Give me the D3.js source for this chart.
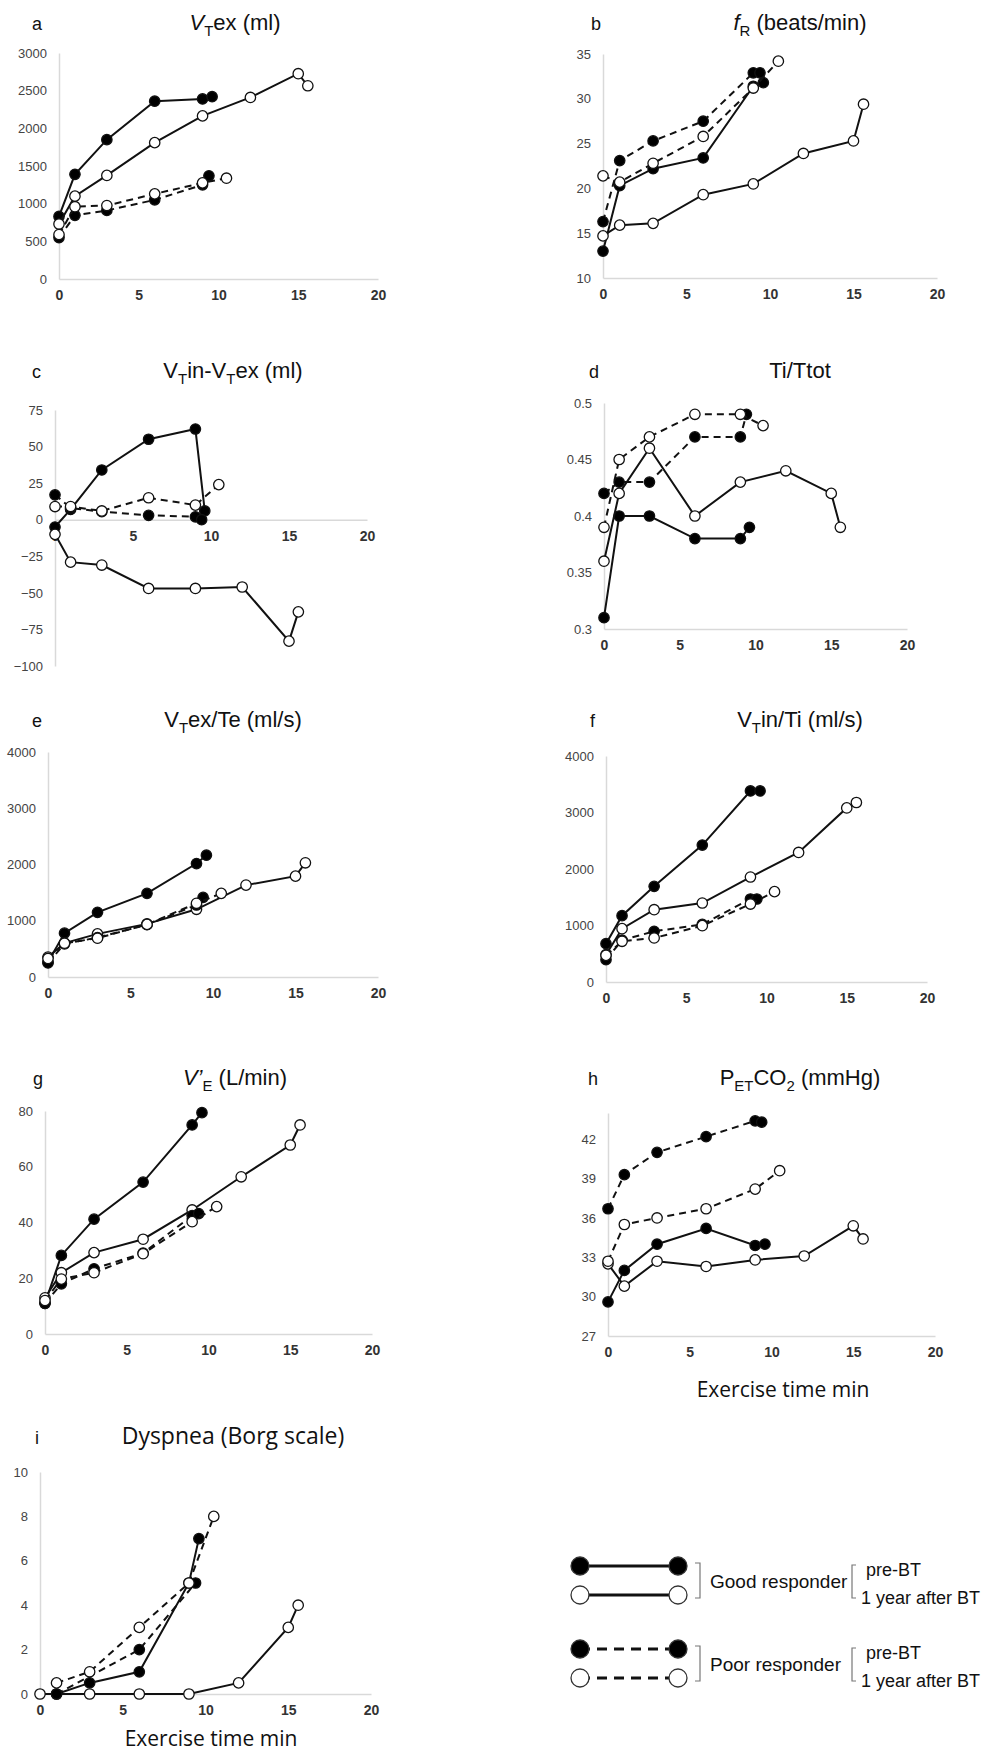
<!DOCTYPE html>
<html lang="en">
<head>
<meta charset="UTF-8">
<title>Exercise responses, good vs poor responders</title>
<script src="https://d3js.org/d3.v7.min.js"></script>
<style>
  body { margin: 0; background: #fff; }
  svg text { font-family: "Liberation Sans", Arial, sans-serif; }
</style>
</head>
<body>
<svg id="chart" width="987" height="1758"></svg>
<script>
// exercise time points (min) of each group
const goodPreT  = [0, 1, 3, 6, 9, 9.6];
const goodPostT = [0, 1, 3, 6, 9, 12, 15, 15.6];
const poorPreT  = [0, 1, 3, 6, 9, 9.4];
const poorPostT = [0, 1, 3, 6, 9, 10.5];

// a  VTex (ml)
const vtexGoodPre  = [830, 1390, 1850, 2360, 2390, 2420];
const vtexGoodPost = [730, 1100, 1375, 1810, 2165, 2410, 2725, 2565];
const vtexPoorPre  = [550, 845, 910, 1050, 1250, 1370];
const vtexPoorPost = [590, 960, 975, 1130, 1276, 1338];
// b  fR (beats/min)
const frGoodPre  = [13, 20.3, 22.2, 23.4, 31.4, 31.8];
const frGoodPost = [14.7, 15.9, 16.1, 19.3, 20.5, 23.9, 25.3, 29.4];
const frPoorPre  = [16.3, 23.1, 25.3, 27.5, 32.9, 32.9];
const frPoorPost = [21.4, 20.7, 22.8, 25.8, 31.2, 34.2];
// c  VTin-VTex (ml)
const dvGoodPre  = [-5, 7, 34, 55, 62, 6];
const dvGoodPost = [-10, -29, -31, -47, -47, -46, -83, -63];
const dvPoorPre  = [17, 8, 5.5, 3, 2, 0];
const dvPoorPost = [9, 9, 6, 15, 10, 24];
// d  Ti/Ttot
const tiGoodPre  = [0.31, 0.40, 0.40, 0.38, 0.38, 0.39];
const tiGoodPost = [0.36, 0.42, 0.46, 0.40, 0.43, 0.44, 0.42, 0.39];
const tiPoorPre  = [0.42, 0.43, 0.43, 0.47, 0.47, 0.49];
const tiPoorPost = [0.39, 0.45, 0.47, 0.49, 0.49, 0.48];
// e  VTex/Te (ml/s)
const teGoodPre  = [265, 780, 1150, 1487, 2017, 2165];
const teGoodPost = [354, 602, 767, 944, 1204, 1634, 1793, 2030];
const tePoorPre  = [250, 590, 700, 930, 1280, 1416];
const tePoorPost = [330, 600, 690, 935, 1310, 1487];
// f  VTin/Ti (ml/s)
const tifGoodPre  = [678, 1174, 1693, 2424, 3381, 3381];
const tifGoodPost = [484, 944, 1280, 1398, 1858, 2293, 3081, 3177];
const tifPoorPre  = [395, 740, 897, 1020, 1469, 1469];
const tifPoorPost = [472, 720, 779, 997, 1380, 1599];
// g  V'E (L/min)
const veGoodPre  = [11, 28.2, 41.2, 54.5, 75, 79.4];
const veGoodPost = [13, 22, 29.2, 34, 44.5, 56.4, 67.8, 75];
const vePoorPre  = [11, 18, 23.4, 29, 42.5, 43.2];
const vePoorPost = [12, 19.7, 22, 28.8, 40.3, 45.7];
// h  PETCO2 (mmHg)
const co2GoodPre  = [29.6, 32, 34, 35.2, 33.9, 34];
const co2GoodPost = [32.5, 30.8, 32.7, 32.3, 32.8, 33.1, 35.4, 34.4];
const co2PoorPre  = [36.7, 39.3, 41, 42.2, 43.4, 43.3];
const co2PoorPost = [32.7, 35.5, 36, 36.7, 38.2, 39.6];
// i  Dyspnea (Borg scale)
const borgGoodPre  = [null, 0, 0.5, 1, 5, 7];
const borgGoodPost = [0, null, 0, 0, 0, 0.5, 3, 4];
const borgPoorPre  = [null, 0, null, 2, null, 5];
const borgPoorPost = [null, 0.5, 1, 3, 5, 8];

// axis ticks
const xTicks = [0, 5, 10, 15, 20];
const vtexTicks = [0, 500, 1000, 1500, 2000, 2500, 3000];
const frTicks = [10, 15, 20, 25, 30, 35];
const dvTicks = [-100, -75, -50, -25, 0, 25, 50, 75];
const tiTicks = [0.3, 0.35, 0.4, 0.45, 0.5];
const flowTicks = [0, 1000, 2000, 3000, 4000];
const veTicks = [0, 20, 40, 60, 80];
const co2Ticks = [27, 30, 33, 36, 39, 42];
const borgTicks = [0, 2, 4, 6, 8, 10];

const legendGroups = ["Good responder", "Poor responder"];
const legendPhases = ["pre-BT", "1 year after BT"];
const xLabel = "Exercise time min";

const svg = d3.select("#chart");

const styles = [
  { dash: null, fill: "#000" },   // good pre
  { dash: null, fill: "#fff" },   // good post
  { dash: "7,5", fill: "#000" },  // poor pre
  { dash: "7,5", fill: "#fff" }   // poor post
];

function rich(sel, parts, fs) {
  let down = false;
  parts.forEach(p => {
    const ts = sel.append("tspan").text(p.t);
    if (p.it) ts.attr("font-style", "italic");
    if (p.sub) {
      ts.attr("font-size", fs * 0.68);
      if (!down) ts.attr("dy", fs * 0.28);
      down = true;
    } else if (down) {
      ts.attr("dy", -fs * 0.28);
      down = false;
    }
  });
}

function panel(cfg, vals) {
  const times = [goodPreT, goodPostT, poorPreT, poorPostT];
  const x = d3.scaleLinear().domain([0, 20]).range([cfg.x0, cfg.x1]);
  const y = d3.scaleLinear().domain(cfg.dom).range([cfg.yBot, cfg.yTop]);
  const g = svg.append("g");

  const yAx = g.append("g").attr("transform", `translate(${cfg.x0},0)`)
    .call(d3.axisLeft(y).tickValues(cfg.ticks).tickSize(0).tickPadding(12)
      .tickFormat(cfg.fmt || d3.format("d")));
  const xAt = cfg.xAt !== undefined ? cfg.xAt : cfg.dom[0];
  const xAx = g.append("g").attr("transform", `translate(0,${y(xAt)})`)
    .call(d3.axisBottom(x).tickValues(xTicks).tickSize(0).tickPadding(11));
  [yAx, xAx].forEach(a => a.select(".domain").attr("stroke", "#d9d9d9").attr("stroke-width", 1.5));
  yAx.selectAll("text").attr("font-size", 13).attr("fill", "#444")
    .attr("font-family", "Liberation Sans, Arial, sans-serif");
  xAx.selectAll("text").attr("font-size", 14).attr("font-weight", "bold").attr("fill", "#333")
    .attr("font-family", "Liberation Sans, Arial, sans-serif");

  const line = d3.line().x(d => x(d[0])).y(d => y(d[1]));
  vals.forEach((v, i) => {
    const pts = times[i].map((t, k) => [t, v[k]]).filter(d => d[1] != null);
    const st = styles[i];
    g.append("path").datum(pts).attr("fill", "none").attr("stroke", "#111")
      .attr("stroke-width", 2).attr("stroke-dasharray", st.dash).attr("d", line);
    g.selectAll(null).data(pts).join("circle")
      .attr("cx", d => x(d[0])).attr("cy", d => y(d[1])).attr("r", 5.2)
      .attr("fill", st.fill).attr("stroke", "#111").attr("stroke-width", 1.3);
  });

  svg.append("text").attr("x", cfg.lx).attr("y", cfg.ty).attr("font-size", 18)
    .attr("fill", "#111").text(cfg.letter);
  const t = svg.append("text").attr("x", cfg.tx).attr("y", cfg.ty)
    .attr("text-anchor", "middle").attr("font-size", cfg.tfs || 22).attr("fill", "#111");
  if (cfg.tfont) t.style("font-family", cfg.tfont);
  rich(t, cfg.title, cfg.tfs || 22);
}

const fmt2 = d => String(+d.toFixed(2));

panel({ letter: "a", lx: 32, tx: 235, ty: 30, x0: 59, x1: 378, yTop: 53, yBot: 279,
  dom: [0, 3000], ticks: vtexTicks,
  title: [{ t: "V", it: 1 }, { t: "T", sub: 1 }, { t: "ex (ml)" }] },
  [vtexGoodPre, vtexGoodPost, vtexPoorPre, vtexPoorPost]);

panel({ letter: "b", lx: 591, tx: 800, ty: 30, x0: 603, x1: 937, yTop: 54, yBot: 278,
  dom: [10, 35], ticks: frTicks,
  title: [{ t: "f", it: 1 }, { t: "R", sub: 1 }, { t: " (beats/min)" }] },
  [frGoodPre, frGoodPost, frPoorPre, frPoorPost]);

panel({ letter: "c", lx: 32, tx: 233, ty: 378, x0: 55, x1: 367, yTop: 410, yBot: 666,
  dom: [-100, 75], ticks: dvTicks, xAt: 0,
  title: [{ t: "V" }, { t: "T", sub: 1 }, { t: "in-V" }, { t: "T", sub: 1 }, { t: "ex (ml)" }] },
  [dvGoodPre, dvGoodPost, dvPoorPre, dvPoorPost]);

panel({ letter: "d", lx: 589, tx: 800, ty: 378, x0: 604, x1: 907, yTop: 403, yBot: 629,
  dom: [0.3, 0.5], ticks: tiTicks, fmt: fmt2,
  title: [{ t: "Ti/Ttot" }] },
  [tiGoodPre, tiGoodPost, tiPoorPre, tiPoorPost]);

panel({ letter: "e", lx: 32, tx: 233, ty: 727, x0: 48, x1: 378, yTop: 752, yBot: 977,
  dom: [0, 4000], ticks: flowTicks,
  title: [{ t: "V" }, { t: "T", sub: 1 }, { t: "ex/Te (ml/s)" }] },
  [teGoodPre, teGoodPost, tePoorPre, tePoorPost]);

panel({ letter: "f", lx: 590, tx: 800, ty: 727, x0: 606, x1: 927, yTop: 756, yBot: 982,
  dom: [0, 4000], ticks: flowTicks,
  title: [{ t: "V" }, { t: "T", sub: 1 }, { t: "in/Ti (ml/s)" }] },
  [tifGoodPre, tifGoodPost, tifPoorPre, tifPoorPost]);

panel({ letter: "g", lx: 33, tx: 235, ty: 1085, x0: 45, x1: 372, yTop: 1111, yBot: 1334,
  dom: [0, 80], ticks: veTicks,
  title: [{ t: "V\u2019", it: 1 }, { t: "E", sub: 1 }, { t: " (L/min)" }] },
  [veGoodPre, veGoodPost, vePoorPre, vePoorPost]);

panel({ letter: "h", lx: 588, tx: 800, ty: 1085, x0: 608, x1: 935, yTop: 1113, yBot: 1336,
  dom: [27, 44], ticks: co2Ticks,
  title: [{ t: "P" }, { t: "ET", sub: 1 }, { t: "CO" }, { t: "2", sub: 1 }, { t: " (mmHg)" }] },
  [co2GoodPre, co2GoodPost, co2PoorPre, co2PoorPost]);

panel({ letter: "i", lx: 35, tx: 233, ty: 1444, x0: 40, x1: 371, yTop: 1472, yBot: 1694,
  dom: [0, 10], ticks: borgTicks, tfs: 23, tfont: "'Open Sans', sans-serif",
  title: [{ t: "Dyspnea (Borg scale)" }] },
  [borgGoodPre, borgGoodPost, borgPoorPre, borgPoorPost]);

// x axis titles
[[783, 1397], [211, 1746]].forEach(([cx, cy]) => {
  svg.append("text").attr("x", cx).attr("y", cy).attr("text-anchor", "middle")
    .attr("font-size", 21).attr("fill", "#111").style("font-family", "'Open Sans', sans-serif")
    .text(xLabel);
});

// legend
const legRows = [1566, 1595, 1649, 1678];
const leg = svg.append("g");
legRows.forEach((ly, i) => {
  const st = styles[i];
  leg.append("line").attr("x1", 580).attr("x2", 678).attr("y1", ly).attr("y2", ly)
    .attr("stroke", "#111").attr("stroke-width", 3)
    .attr("stroke-dasharray", st.dash ? "10,7" : null);
  [580, 678].forEach(cx => leg.append("circle").attr("cx", cx).attr("cy", ly).attr("r", 9)
    .attr("fill", st.fill).attr("stroke", "#333").attr("stroke-width", 1.3));
});
legendGroups.forEach((name, k) => {
  const y0 = legRows[k * 2], y1 = legRows[k * 2 + 1];
  leg.append("path").attr("d", `M695,${y0 - 3}h5v${y1 - y0 + 6}h-5`)
    .attr("fill", "none").attr("stroke", "#777").attr("stroke-width", 1.2);
  leg.append("text").attr("x", 710).attr("y", (y0 + y1) / 2 + 7).attr("font-size", 19)
    .attr("fill", "#111").text(name);
  leg.append("path").attr("d", `M856,${y0 - 1}h-4v${y1 - y0 + 4}h4`)
    .attr("fill", "none").attr("stroke", "#777").attr("stroke-width", 1.2);
  leg.append("text").attr("x", 866).attr("y", y0 + 10).attr("font-size", 18)
    .attr("fill", "#111").text(legendPhases[0]);
  leg.append("text").attr("x", 861).attr("y", y1 + 9).attr("font-size", 18)
    .attr("fill", "#111").text(legendPhases[1]);
});
</script>
</body>
</html>
